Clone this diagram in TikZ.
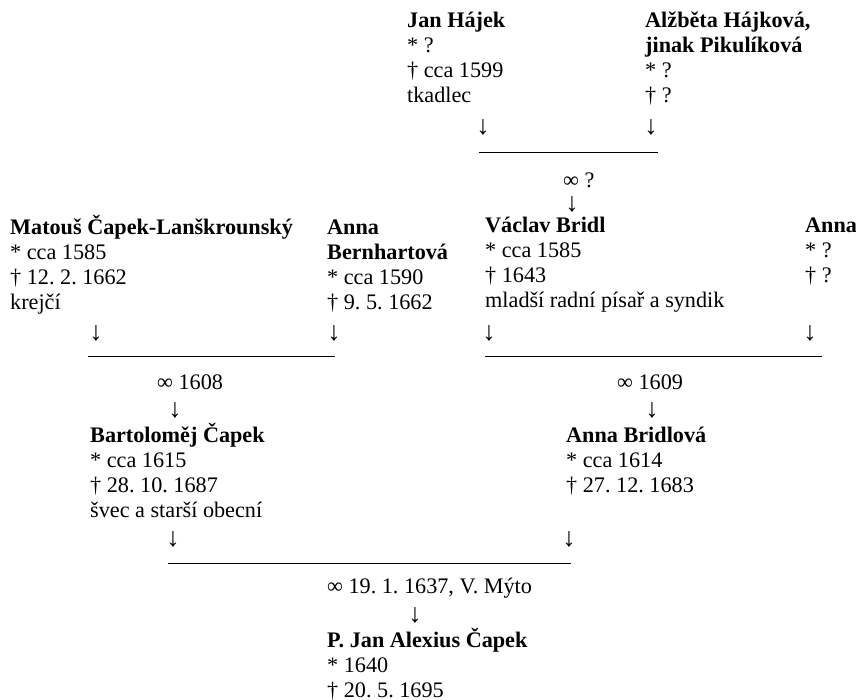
\documentclass[tikz,border=0pt]{standalone}
\usepackage{fontspec}
\setmainfont{Liberation Serif}
\frenchspacing
\tikzset{
  person/.style={anchor=base west, align=left, inner sep=0pt},
  down/.style={anchor=base, inner sep=0pt, scale=1.2},
  wedding/.style={anchor=base west, inner sep=0pt},
  bar/.style={line width=0.8pt}
}
\begin{document}
\begin{tikzpicture}[x=1pt, y=-1pt, font=\fontsize{22.2}{25}\selectfont]
    \useasboundingbox (0,0) rectangle (856,700);

    % Hajek couple (nodes sit on the baseline of their last line)
    \node[person] (hajek) at (407,103) {\textbf{Jan Hájek}\\{*} ?\\† cca 1599\\tkadlec};
    \node[person] (hajkova) at (645,103) {\textbf{Alžběta Hájková,}\\\textbf{jinak Pikulíková}\\{*} ?\\† ?};
    \node[down] (hajekd) at (483,135) {↓};
    \node[down] (hajkovad) at (651,135) {↓};
    \coordinate (hajekl) at (479,152);
    \coordinate (hajekr) at (658,152);
    \draw[bar] (hajekl) -- (hajekr);
    \node[wedding] (hajekw) at (563,188) {∞ ?};
    \node[down] (hajekwd) at (572,212) {↓};

    % Capek couple
    \node[person] (matous) at (10,310) {\textbf{Matouš Čapek-Lanškrounský}\\{*} cca 1585\\† 12. 2. 1662\\krejčí};
    \node[person] (bernhart) at (327,310) {\textbf{Anna}\\\textbf{Bernhartová}\\{*} cca 1590\\† 9. 5. 1662};
    \node[down] (matousd) at (96,340) {↓};
    \node[down] (bernhartd) at (334,340) {↓};
    \coordinate (capekl) at (88,356);
    \coordinate (capekr) at (335,356);
    \draw[bar] (capekl) -- (capekr);
    \node[wedding] (capekw) at (157,389) {∞ 1608};
    \node[down] (capekwd) at (175,417) {↓};

    % Bridl couple
    \node[person] (bridl) at (485,308) {\textbf{Václav Bridl}\\{*} cca 1585\\† 1643\\mladší radní písař a syndik};
    \node[person] (anna) at (805,283) {\textbf{Anna}\\{*} ?\\† ?};
    \node[down] (bridld) at (489,340) {↓};
    \node[down] (annad) at (810,340) {↓};
    \coordinate (bridll) at (485,356);
    \coordinate (bridlr) at (822,356);
    \draw[bar] (bridll) -- (bridlr);
    \node[wedding] (bridlw) at (617,389) {∞ 1609};
    \node[down] (bridlwd) at (652,417) {↓};

    % Bartolomej and Anna
    \node[person] (bartolomej) at (90,517) {\textbf{Bartoloměj Čapek}\\{*} cca 1615\\† 28. 10. 1687\\švec a starší obecní};
    \node[person] (bridlova) at (566,492) {\textbf{Anna Bridlová}\\{*} cca 1614\\† 27. 12. 1683};
    \node[down] (bartolomejd) at (173,546) {↓};
    \node[down] (bridlovad) at (569,546) {↓};
    \coordinate (lastl) at (168,563);
    \coordinate (lastr) at (571,563);
    \draw[bar] (lastl) -- (lastr);
    \node[wedding] (lastw) at (327,593) {∞ 19. 1. 1637, V. Mýto};
    \node[down] (lastwd) at (415,622) {↓};

    % Son
    \node[person] (jan) at (327,697) {\textbf{P. Jan Alexius Čapek}\\{*} 1640\\† 20. 5. 1695};
\end{tikzpicture}
\end{document}
